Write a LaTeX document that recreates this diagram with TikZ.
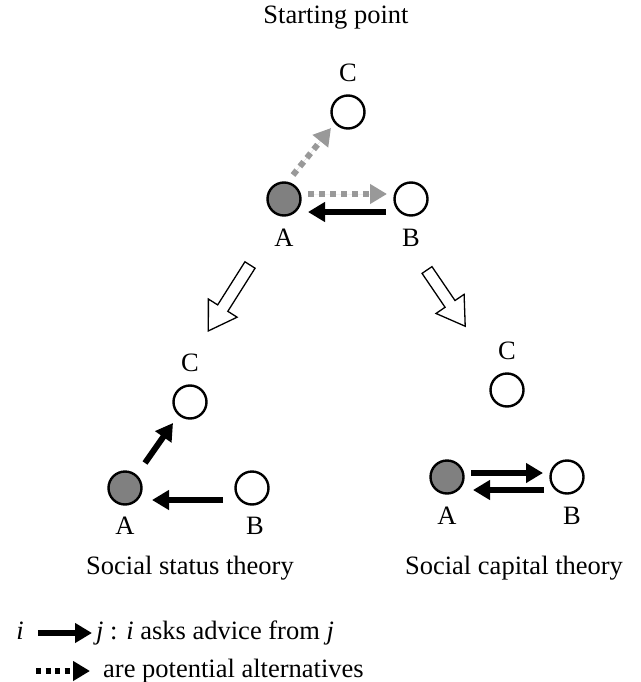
\documentclass[tikz,border=0pt]{standalone}
\usepackage{fontspec}
\setmainfont{Liberation Serif}
\usetikzlibrary{arrows.meta,positioning}

\begin{document}
\begin{tikzpicture}[
    x=1pt, y=-1pt,
    actor/.style={circle, draw=black, line width=2.4pt, minimum size=33pt, inner sep=0pt, fill=white},
    ego/.style={actor, fill=gray},
    txt/.style={font=\fontsize{26.5}{30}\selectfont, inner sep=0pt},
    legend/.style={txt, text height=17pt, text depth=5pt},
    adv/.style={line width=6pt, -{Triangle[length=17pt,width=19pt]}},
    alt/.style={adv, draw=gray!80, fill=gray!80, dash pattern=on 6pt off 5pt},
    hollow/.pic={\draw[line width=1.3pt, line join=miter, fill=white]
        (0,-6) -- (#1-27,-6) -- (#1-27,-17) -- (#1,0) -- (#1-27,17) -- (#1-27,6) -- (0,6) -- cycle;}
]
\useasboundingbox (0,0) rectangle (640,682);

% Starting point
\node[txt] (start) at (336,18) {Starting point};
\node[ego] (A) at (284,199) {};
\node[actor] (B) at (411,199) {};
\node[actor] (C) at (348,112) {};
\node[txt, below=12pt of A] (labA) {A};
\node[txt, below=12pt of B] (labB) {B};
\node[txt, above=12pt of C] (labC) {C};

\draw[alt] ([shift={(9,-24)}]A.center) -- ([shift={(-17,16)}]C.center);
\draw[alt] ([shift={(24,-5)}]A.center) -- ([shift={(-24,-5)}]B.center);
\draw[adv] ([shift={(-25,13)}]B.center) -- ([shift={(24,13)}]A.center);

% Hollow arrows
\pic[rotate=237.7] at (250,265) {hollow=78};
\pic[rotate=-55.8] at (427,270) {hollow=68};

% Social status theory
\node[ego] (sA) at (125,488) {};
\node[actor] (sB) at (252,488) {};
\node[actor] (sC) at (190,402) {};
\node[txt, below=11pt of sA] (labsA) {A};
\node[txt, below=11pt of sB, xshift=3pt] (labsB) {B};
\node[txt, above=12pt of sC] (labsC) {C};
\node[txt] (status) at (190,568) {Social status theory};

\draw[adv] ([shift={(20,-25)}]sA.center) -- ([shift={(-17,21)}]sC.center);
\draw[adv] ([shift={(-29,12)}]sB.center) -- ([shift={(27,12)}]sA.center);

% Social capital theory
\node[ego] (cA) at (447,477) {};
\node[actor] (cB) at (567,477) {};
\node[actor] (cC) at (507,390) {};
\node[txt, below=12pt of cA] (labcA) {A};
\node[txt, below=12pt of cB, xshift=5pt] (labcB) {B};
\node[txt, above=12pt of cC] (labcC) {C};
\node[txt] (capital) at (514,568) {Social capital theory};

\draw[adv] ([shift={(24,-4)}]cA.center) -- ([shift={(-24,-4)}]cB.center);
\draw[adv] ([shift={(-23,13)}]cB.center) -- ([shift={(26,13)}]cA.center);

% Legend
\node[legend] (li) at (20,633) {\textit{i}};
\node[legend, anchor=west] (lj) at (96,633) {\textit{j} : \textit{i} asks advice from \textit{j}};
\draw[adv, shorten <=14pt, shorten >=4pt] (li.east) -- (lj.west);
\coordinate (ld) at (36,671);
\node[legend, anchor=west] (lalt) at (103,671) {are potential alternatives};
\draw[adv, dash pattern=on 5pt off 4.5pt, shorten >=13pt] (ld) -- (lalt.west);

\end{tikzpicture}
\end{document}
